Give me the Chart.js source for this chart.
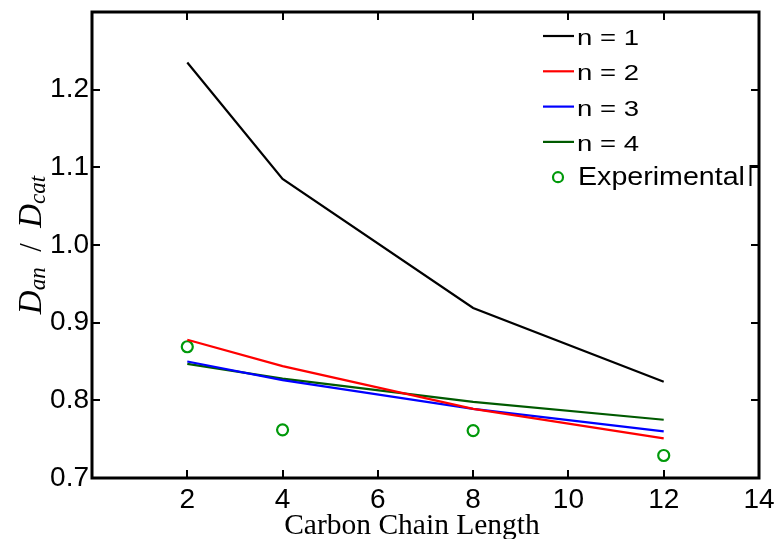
<!DOCTYPE html>
<html><head><meta charset="utf-8">
<script src="https://cdn.jsdelivr.net/npm/chart.js@4/dist/chart.umd.min.js"></script>
<style>html,body{margin:0;padding:0;background:#fff}#wrap{width:776px;height:539px}</style>
</head><body><div id="wrap"><canvas id="c" width="776" height="539"></canvas></div>
<script>
const chainLength = [2, 4, 8, 12];
const n1 = [1.235, 1.085, 0.919, 0.824];
const n2 = [0.878, 0.844, 0.789, 0.751];
const n3 = [0.850, 0.826, 0.789, 0.760];
const n4 = [0.847, 0.828, 0.798, 0.775];
const experimental = [0.869, 0.762, 0.761, 0.729];
const xTicks = [2, 4, 6, 8, 10, 12, 14];
const yTicks = [0.7, 0.8, 0.9, 1.0, 1.1, 1.2];
const xTitle = 'Carbon Chain Length';

const pts = a => chainLength.map((x, i) => ({x, y: a[i]}));
const line = (label, data, color) => ({label, data: pts(data), borderColor: color, backgroundColor: color,
  borderWidth: 2.2, pointRadius: 0, fill: false, tension: 0, showLine: true});

const tickFont = {family: 'Liberation Sans, Arial, sans-serif', size: 28};

const inwardTicks = {
  id: 'inwardTicks',
  afterDraw(chart) {
    const {ctx, chartArea: a, scales: {x, y}} = chart;
    ctx.save();
    ctx.strokeStyle = '#000'; ctx.lineWidth = 2;
    const L = 8;
    xTicks.forEach(v => { const px = Math.round(x.getPixelForValue(v));
      ctx.beginPath(); ctx.moveTo(px, a.bottom); ctx.lineTo(px, a.bottom - L);
      ctx.moveTo(px, a.top); ctx.lineTo(px, a.top + L); ctx.stroke(); });
    yTicks.forEach(v => { const py = Math.round(y.getPixelForValue(v));
      ctx.beginPath(); ctx.moveTo(a.left, py); ctx.lineTo(a.left + L, py);
      ctx.moveTo(a.right, py); ctx.lineTo(a.right - L, py); ctx.stroke(); });
    ctx.lineWidth = 3;
    ctx.strokeRect(a.left, a.top, a.right - a.left, a.bottom - a.top);
    // x-axis title
    ctx.fillStyle = '#000';
    ctx.font = '29.5px "Liberation Serif", serif';
    ctx.textAlign = 'center'; ctx.textBaseline = 'alphabetic';
    ctx.fillText(xTitle, 412, 534);
    ctx.textAlign = 'left';
    // y-axis title with subscripts
    ctx.translate(0, (a.top + a.bottom) / 2);
    ctx.rotate(-Math.PI / 2);
    const big = 'italic 33px "Liberation Serif", serif';
    const small = 'italic 23px "Liberation Serif", serif';
    const up = '31px "Liberation Serif", serif';
    const parts = [['D', big, 0], ['an', small, 4], ['  /  ', up, 0], ['D', big, 0], ['cat', small, 4]];
    let w = 0;
    parts.forEach(p => { ctx.font = p[1]; w += ctx.measureText(p[0]).width; });
    let cx = -w / 2;
    parts.forEach(p => { ctx.font = p[1]; ctx.fillText(p[0], cx, 41 + p[2]); cx += ctx.measureText(p[0]).width; });
    ctx.restore();
    // legend
    ctx.save();
    ctx.textBaseline = 'middle';
    chart.data.datasets.forEach((ds, i) => {
      const yy = 36 + i * 35.3;
      if (ds.showLine) {
        ctx.strokeStyle = ds.borderColor; ctx.lineWidth = 2.2;
        ctx.beginPath(); ctx.moveTo(543, yy); ctx.lineTo(574, yy); ctx.stroke();
      } else {
        ctx.strokeStyle = ds.borderColor; ctx.lineWidth = 2.2;
        ctx.beginPath(); ctx.arc(558, yy, 5, 0, Math.PI * 2); ctx.stroke();
      }
      ctx.fillStyle = '#000';
      ctx.save();
      if (ds.showLine) {
        ctx.font = '22px "Liberation Sans", Arial, sans-serif';
        ctx.translate(577, yy + 3); ctx.scale(1.25, 1);
      } else {
        ctx.font = '26px "Liberation Sans", Arial, sans-serif';
        ctx.translate(578, yy + 1); ctx.scale(1.1, 1);
      }
      ctx.fillText(ds.label, 0, 0);
      ctx.restore();
    });
    // remnant of the legend box corner
    ctx.strokeStyle = '#000'; ctx.lineWidth = 2;
    ctx.beginPath(); ctx.moveTo(750.5, 186); ctx.lineTo(750.5, 166); ctx.lineTo(758, 166); ctx.stroke();
    ctx.restore();
  }
};

new Chart(document.getElementById('c'), {
  type: 'scatter',
  data: {datasets: [
    line('n = 1', n1, '#000000'),
    line('n = 2', n2, '#ff0000'),
    line('n = 3', n3, '#0000ff'),
    line('n = 4', n4, '#005a00'),
    {label: 'Experimental', data: pts(experimental), showLine: false, borderColor: '#00990a', backgroundColor: 'rgba(0,0,0,0)',
     pointRadius: 5.5, pointBorderWidth: 2.2, pointStyle: 'circle'}
  ]},
  options: {
    responsive: false, animation: false,
    layout: {padding: {top: 12, right: 17, left: 0, bottom: 0}},
    plugins: {legend: {display: false}, tooltip: {enabled: false}},
    scales: {
      x: {type: 'linear', min: 0, max: 14,
        afterBuildTicks: s => { s.ticks = xTicks.map(v => ({value: v})); },
        afterFit: s => { s.height = 61; s.paddingLeft = 0; s.paddingRight = 0; },
        grid: {display: false, drawTicks: false},
        border: {display: false},
        ticks: {font: tickFont, color: '#000', padding: 5, maxRotation: 0},
        title: {display: false}
      },
      y: {type: 'linear', min: 0.7, max: 1.3,
        afterBuildTicks: s => { s.ticks = yTicks.map(v => ({value: v})); },
        afterFit: s => { s.width = 92; s.paddingTop = 0; s.paddingBottom = 0; },
        grid: {display: false, drawTicks: false},
        border: {display: false},
        ticks: {font: tickFont, color: '#000', padding: 3, callback: v => v.toFixed(1)}
      }
    }
  },
  plugins: [inwardTicks]
});
</script></body></html>
